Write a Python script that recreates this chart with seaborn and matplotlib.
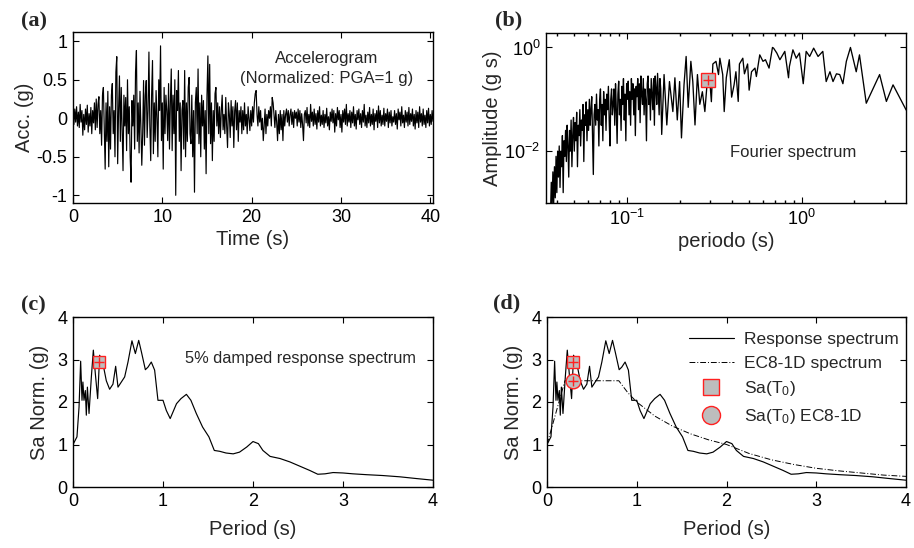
import numpy as np
import pandas as pd
import matplotlib
matplotlib.use("Agg")
import matplotlib.pyplot as plt
import seaborn as sns
from matplotlib.lines import Line2D
from matplotlib.ticker import LogLocator, NullLocator, FixedLocator

# ---------------- data ----------------
acc_dt = 0.1
acc_values = [
    0.05, -0.08, 0.12, -0.05, 0.15, -0.1, 0.08, -0.12, 0.18, -0.05,
    0.1, -0.22, 0.05, -0.15, 0.12, -0.08, 0.17, -0.18, 0.06, -0.1,
    0.14, -0.2, 0.1, -0.06, 0.2, -0.15, 0.25, -0.12, 0.18, 0.28,
    -0.2, 0.1, -0.35, 0.3, 0.4, -0.1, -0.66, 0.2, -0.3, 0.35,
    -0.63, 0.15, -0.4, 0.3, 0.45, -0.2, 0.1, -0.5, 0.6, 0.8,
    -0.59, 0.1, 0.55, -0.3, 0.4, -0.15, -0.68, 0.3, -0.1, 0.27,
    -0.42, 0.5, -0.2, 0.15, -0.5, -0.83, 0.23, -0.1, 0.3, -0.4,
    0.6, 0.88, -0.3, 0.2, -0.45, 0.35, -0.1, -0.61, -0.2, 0.49,
    -0.35, 0.3, 0.49, -0.25, 0.1, 0.86, -0.1, -0.55, 0.3, 0.75,
    -0.46, 0.2, -0.3, 0.36, 0.0, -0.5, 0.5, 0.1, 0.94, -0.29,
    0.2, -0.66, 0.4, -0.2, 0.3, 0.1, -0.29, 0.45, -0.4, 0.2,
    0.64, -0.42, 0.3, -0.2, 0.5, -1.0, 0.36, 0.1, 0.62, -0.3,
    0.2, -0.68, 0.1, 0.23, -0.4, 0.62, -0.5, 0.2, -0.3, 0.4,
    0.53, -0.2, -0.33, 0.3, -0.5, 0.1, -0.96, 0.2, 0.4, -0.2,
    0.64, -0.33, 0.2, -0.5, 0.3, -0.1, 0.23, -0.4, 0.1, -0.72,
    0.3, 0.81, -0.2, 0.7, -0.33, 0.2, -0.55, 0.1, -0.3, 0.32,
    0.4, -0.1, 0.2, -0.2, 0.15, -0.25, 0.1, 0.3, -0.15, 0.05,
    -0.2, 0.27, -0.1, -0.38, 0.2, 0.05, -0.25, 0.23, -0.1, 0.15,
    -0.38, 0.1, 0.23, -0.15, 0.2, -0.3, 0.1, -0.05, 0.15, -0.2,
    0.1, -0.15, 0.2, -0.1, 0.05, -0.2, 0.15, 0.0, -0.16, 0.1,
    -0.1, 0.15, -0.05, 0.2, 0.32, 0.36, 0.05, -0.1, 0.15, -0.05,
    0.1, -0.15, 0.0, -0.29, -0.1, 0.12, -0.2, 0.05, -0.1, 0.1,
    0.0, 0.15, -0.1, 0.27, 0.2, 0.05, -0.12, 0.1, -0.05, -0.29,
    0.05, -0.2, 0.1, -0.15, 0.05, -0.29, 0.1, -0.1, 0.05, 0.12,
    -0.05, 0.1, -0.1, 0.05, 0.12, -0.08, 0.08, -0.12, 0.1, 0.0,
    0.08, -0.1, 0.12, -0.05, 0.1, -0.12, 0.06, -0.08, -0.29, 0.05,
    0.1, -0.06, 0.14, -0.1, 0.05, -0.12, 0.18, -0.04, 0.08, -0.1,
    0.12, -0.08, 0.06, -0.14, 0.1, -0.05, 0.15, -0.1, 0.04, -0.08,
    0.1, -0.12, 0.05, -0.06, 0.13, -0.1, 0.02, -0.15, 0.08, -0.04,
    0.12, -0.06, 0.1, -0.18, 0.06, -0.1, 0.14, -0.02, 0.1, -0.12,
    0.05, -0.18, 0.1, -0.05, 0.12, -0.08, 0.18, -0.1, 0.06, -0.05,
    0.1, -0.12, 0.08, -0.06, 0.15, -0.1, 0.05, -0.14, 0.1, -0.02,
    0.12, -0.08, 0.06, -0.12, 0.1, -0.05, 0.18, -0.1, 0.04, -0.12,
    0.08, -0.06, 0.14, -0.1, 0.05, -0.08, 0.12, -0.15, 0.06, -0.04,
    0.1, -0.12, 0.16, -0.06, 0.1, -0.1, 0.04, -0.08, 0.13, -0.1,
    0.06, -0.04, 0.12, -0.12, 0.08, -0.06, 0.1, -0.1, 0.02, -0.05,
    0.1, -0.08, 0.06, -0.14, 0.12, -0.02, 0.08, -0.1, 0.15, -0.06,
    0.04, -0.12, 0.1, -0.05, 0.08, -0.1, 0.14, -0.08, 0.06, -0.04,
    0.12, -0.1, 0.05, -0.14, 0.1, -0.06, 0.08, -0.12, 0.15, -0.05,
    0.06, -0.1, 0.12, -0.08, 0.04, -0.12, 0.1, -0.06, 0.13, -0.1,
    0.05, -0.08, 0.1, -0.04,
]

# Fourier spectrum, short-period (dense) part: log10 amplitudes
fourier_dense_period_range = (0.0365, 0.156)
fourier_dense_log_amp = [
    -3.2, -2.6, -3.1, -2.4, -3.0, -2.3, -2.9, -2.1, -2.8, -2.0,
    -2.5, -1.9, -2.7, -2.0, -2.3, -1.7, -2.8, -1.8, -2.1, -1.6,
    -2.2, -1.5, -1.9, -2.5, -1.6, -2.0, -1.4, -2.3, -1.7, -1.35,
    -2.0, -1.45, -1.8, -1.25, -2.3, -1.5, -1.7, -1.2, -1.9, -1.4,
    -1.6, -1.1, -2.2, -1.3, -1.5, -1.05, -1.8, -1.2, -1.6, -1.0,
    -1.5, -1.2, -0.95, -1.7, -2.45, -1.3, -1.1, -1.5, -0.9, -1.4,
    -1.2, -1.9, -1.0, -0.8, -1.5, -1.1, -1.8, -0.85, -1.3, -1.0,
    -1.6, -0.9, -1.2, -0.75, -1.4, -1.9, -1.0, -0.8, -1.3, -1.1,
    -0.8, -1.5, -0.7, -1.2, -1.85, -0.9, -0.65, -1.3, -1.0, -1.6,
    -0.75, -1.1, -0.6, -1.4, -0.9, -1.8, -0.7, -1.0, -0.65, -1.3,
    -0.85, -1.5, -0.6, -1.0, -0.7, -1.3, -0.8, -1.7, -0.75, -0.95,
    -0.6, -1.2, -0.7, -1.45, -0.55, -0.9, -1.1, -0.6, -1.3, -0.8,
    -1.0, -1.8, -0.7, -0.55, -1.1, -0.8, -1.4, -0.6, -0.9, -1.2,
    -0.6, -1.5, -0.55, -0.8, -1.1, -0.5, -0.9, -1.3, -0.6, -0.8,
]
# Fourier spectrum, longer-period part
fourier_period = [
    0.158, 0.163, 0.169, 0.175, 0.183, 0.188, 0.194, 0.2, 0.205, 0.212,
    0.218, 0.224, 0.232, 0.238, 0.245, 0.253, 0.261, 0.27, 0.279, 0.29,
    0.298, 0.304, 0.31, 0.323, 0.334, 0.34, 0.353, 0.36, 0.37, 0.385,
    0.397, 0.41, 0.42, 0.433, 0.44, 0.46, 0.47, 0.49, 0.5, 0.516,
    0.54, 0.55, 0.575, 0.6, 0.62, 0.65, 0.68, 0.69, 0.72, 0.75,
    0.8, 0.84, 0.85, 0.89, 0.93, 0.97, 1.02, 1.06, 1.11, 1.17,
    1.24, 1.32, 1.38, 1.45, 1.51, 1.58, 1.65, 1.72, 1.8, 1.9,
    2.05, 2.14, 2.34, 2.79, 3.05, 3.33, 3.96,
]
fourier_amp = [
    0.021, 0.3, 0.032, 0.22, 0.058, 0.26, 0.04, 0.22, 0.018, 0.19,
    0.67, 0.07, 0.54, 0.22, 0.032, 0.3, 0.08, 0.14, 0.058, 0.3,
    0.22, 0.09, 0.48, 0.54, 0.3, 0.62, 0.3, 0.058, 0.26, 0.58,
    0.11, 0.19, 0.34, 0.091, 0.48, 0.62, 0.31, 0.48, 0.15, 0.34,
    0.4, 0.275, 0.72, 0.54, 0.58, 0.4, 1.0, 0.97, 0.78, 0.58,
    0.84, 0.26, 0.43, 0.9, 0.62, 0.78, 0.2, 0.84, 0.67, 0.97,
    0.67, 0.84, 0.22, 0.34, 0.22, 0.31, 0.3, 0.2, 0.54, 1.0,
    0.34, 0.72, 0.084, 0.30, 0.091, 0.19, 0.062,
]

# 5% damped response spectrum
rs_period = [
    0.0, 0.044, 0.067, 0.085, 0.1, 0.11, 0.122, 0.137, 0.148, 0.16,
    0.178, 0.204, 0.226, 0.248, 0.274, 0.296, 0.333, 0.37, 0.407, 0.444,
    0.474, 0.5, 0.537, 0.574, 0.611, 0.655, 0.693, 0.73, 0.76, 0.804,
    0.833, 0.87, 0.907, 0.944, 1.0, 1.037, 1.08, 1.15, 1.2, 1.26,
    1.31, 1.37, 1.44, 1.51, 1.57, 1.63, 1.7, 1.78, 1.85, 1.93,
    2.0, 2.06, 2.11, 2.19, 2.3, 2.41, 2.52, 2.63, 2.72, 2.8,
    2.89, 3.0, 3.11, 3.26, 3.44, 3.63, 3.81, 4.0,
]
rs_sa = [
    1.0, 1.18, 1.88, 2.96, 2.04, 2.47, 2.04, 2.27, 1.69, 2.35,
    1.73, 2.59, 3.22, 2.67, 2.08, 3.1, 2.9, 2.5, 2.3, 2.42,
    2.84, 2.35, 2.47, 2.59, 2.94, 3.44, 3.14, 3.45, 3.18, 2.76,
    2.82, 2.94, 2.75, 2.04, 2.04, 1.8, 1.61, 1.96, 2.08, 2.18,
    2.04, 1.73, 1.41, 1.18, 0.86, 0.84, 0.8, 0.78, 0.82, 0.94,
    1.07, 1.02, 0.86, 0.72, 0.67, 0.59, 0.49, 0.39, 0.3, 0.31,
    0.34, 0.33, 0.31, 0.29, 0.27, 0.24, 0.2, 0.16,
]

# EC8-1D spectrum
ec8_period = [0.0, 0.2, 0.8, 0.9, 1.0, 1.2, 1.4, 1.6, 1.8, 2.0,
              2.25, 2.5, 2.75, 3.0, 3.25, 3.5, 3.75, 4.0]
ec8_sa = [1.0, 2.5, 2.5, 2.22, 2.0, 1.67, 1.43, 1.25, 1.11, 1.0,
          0.79, 0.64, 0.53, 0.44, 0.38, 0.33, 0.28, 0.25]

T0 = 0.29
sa_T0 = 2.95
sa_T0_ec8 = 2.5
fourier_T0_amp = 0.235

# ---------------- style ----------------
sns.set_theme(style="ticks")
plt.rcParams['font.family'] = ['Liberation Sans', 'DejaVu Sans']
plt.rcParams.update({
    'axes.unicode_minus': False,
    'mathtext.fontset': 'custom',
    'mathtext.rm': 'Liberation Sans',
    'mathtext.it': 'Liberation Sans:italic',
    'mathtext.bf': 'Liberation Sans:bold',
    'xtick.direction': 'in', 'ytick.direction': 'in',
    'xtick.top': True, 'ytick.right': True,
    'xtick.major.size': 4, 'ytick.major.size': 4,
    'xtick.minor.size': 2.2, 'ytick.minor.size': 2.2,
    'xtick.major.width': 0.8, 'ytick.major.width': 0.8,
    'xtick.major.pad': 4.5, 'ytick.major.pad': 4,
    'axes.linewidth': 1.0,
    'axes.edgecolor': 'black',
    'xtick.color': 'black', 'ytick.color': 'black',
    'xtick.labelsize': 13, 'ytick.labelsize': 13,
    'axes.labelsize': 14.5,
})

W, H = 914, 548
fig = plt.figure(figsize=(W / 100, H / 100), dpi=100)


def add_ax(left, top, right, bottom):
    return fig.add_axes([left / W, 1 - bottom / H, (right - left) / W, (bottom - top) / H])


ax_a = add_ax(73, 32, 433, 203)
ax_b = add_ax(546, 33, 906, 203)
ax_c = add_ax(73, 317, 433, 487)
ax_d = add_ax(547, 317, 906, 487)

sq_fc = '#bdbdbd'
red = '#ff2020'
ann_fs = 12

# (a) accelerogram
acc_df = pd.DataFrame({'t': np.arange(len(acc_values)) * acc_dt, 'acc': acc_values})
sns.lineplot(data=acc_df, x='t', y='acc', ax=ax_a, color='black', lw=0.85,
             estimator=None, sort=False)
ax_a.set_xlim(0, 40.3)
ax_a.set_ylim(-1.1, 1.12)
ax_a.set_xticks([0, 10, 20, 30, 40])
ax_a.set_yticks([-1, -0.5, 0, 0.5, 1])
ax_a.set_yticklabels(['-1', '-0.5', '0', '0.5', '1'])
ax_a.set_xlabel('Time (s)', labelpad=3)
ax_a.set_ylabel('Acc. (g)', labelpad=2)
ax_a.text(0.705, 0.845, 'Accelerogram', transform=ax_a.transAxes, ha='center',
          va='center', fontsize=ann_fs)
ax_a.text(0.705, 0.73, '(Normalized: PGA=1 g)', transform=ax_a.transAxes,
          ha='center', va='center', fontsize=ann_fs)

# (b) Fourier spectrum
dense_T = np.geomspace(fourier_dense_period_range[0], fourier_dense_period_range[1],
                       len(fourier_dense_log_amp))
four_df = pd.DataFrame({
    'T': np.concatenate([dense_T, fourier_period]),
    'A': np.concatenate([10.0 ** np.array(fourier_dense_log_amp), fourier_amp]),
})
ax_b.set_xscale('log')
ax_b.set_yscale('log')
sns.lineplot(data=four_df, x='T', y='A', ax=ax_b, color='black', lw=0.95,
             estimator=None, sort=False)
ax_b.set_xlim(0.0344, 3.95)
ax_b.set_ylim(1e-3, 1.9)
ax_b.xaxis.set_major_locator(FixedLocator([0.1, 1.0]))
ax_b.xaxis.set_minor_locator(LogLocator(base=10, subs=np.arange(2, 10)))
ax_b.yaxis.set_major_locator(FixedLocator([1e-2, 1.0]))
ax_b.yaxis.set_minor_locator(NullLocator())
ax_b.plot([T0], [fourier_T0_amp], ls='none', marker='s', ms=9.5, mfc=sq_fc,
          mec=red, mew=1.0, zorder=5)
ax_b.plot([T0], [fourier_T0_amp], ls='none', marker='+', ms=7, mec=red, mew=1.0,
          zorder=6)
ax_b.set_xlabel('periodo (s)', labelpad=2)
ax_b.set_ylabel('Amplitude (g s)', labelpad=2)
ax_b.text(0.686, 0.30, 'Fourier spectrum', transform=ax_b.transAxes, ha='center',
          va='center', fontsize=ann_fs)

# (c) response spectrum
rs_df = pd.DataFrame({'T': rs_period, 'Sa': rs_sa})
sns.lineplot(data=rs_df, x='T', y='Sa', ax=ax_c, color='black', lw=0.85,
             estimator=None, sort=False)
ax_c.plot([T0], [sa_T0], ls='none', marker='s', ms=9, mfc=sq_fc, mec=red, mew=1.0,
          zorder=5)
ax_c.plot([T0], [sa_T0], ls='none', marker='+', ms=6.5, mec=red, mew=1.0, zorder=6)
ax_c.set_xlim(0, 4)
ax_c.set_ylim(0, 4)
ax_c.set_xticks([0, 1, 2, 3, 4])
ax_c.set_yticks([0, 1, 2, 3, 4])
ax_c.set_xlabel('Period (s)', labelpad=7)
ax_c.set_ylabel('Sa Norm. (g)', labelpad=6)
ax_c.text(0.633, 0.755, '5% damped response spectrum', transform=ax_c.transAxes,
          ha='center', va='center', fontsize=11.8)

# (d) response spectrum vs EC8
ec8_df = pd.DataFrame({'T': ec8_period, 'Sa': ec8_sa})
sns.lineplot(data=rs_df, x='T', y='Sa', ax=ax_d, color='black', lw=0.85,
             estimator=None, sort=False)
sns.lineplot(data=ec8_df, x='T', y='Sa', ax=ax_d, color='black', lw=0.7,
             estimator=None, sort=False, linestyle=(0, (6, 2, 1, 2)))
ax_d.plot([T0], [sa_T0], ls='none', marker='s', ms=9, mfc=sq_fc, mec=red, mew=1.0,
          zorder=5)
ax_d.plot([T0], [sa_T0], ls='none', marker='+', ms=6.5, mec=red, mew=1.0, zorder=6)
ax_d.plot([T0], [sa_T0_ec8], ls='none', marker='o', ms=10.5, mfc=sq_fc, mec=red,
          mew=1.0, zorder=5)
ax_d.plot([T0], [sa_T0_ec8], ls='none', marker='+', ms=7, mec=red, mew=1.0, zorder=6)
ax_d.set_xlim(0, 4)
ax_d.set_ylim(0, 4)
ax_d.set_xticks([0, 1, 2, 3, 4])
ax_d.set_yticks([0, 1, 2, 3, 4])
ax_d.set_xlabel('Period (s)', labelpad=7)
ax_d.set_ylabel('Sa Norm. (g)', labelpad=6)
handles = [
    Line2D([], [], color='black', lw=0.85),
    Line2D([], [], color='black', lw=0.7, ls=(0, (6, 2, 1, 2))),
    Line2D([], [], ls='none', marker='s', ms=11, mfc=sq_fc, mec=red, mew=1.0),
    Line2D([], [], ls='none', marker='o', ms=13, mfc=sq_fc, mec=red, mew=1.0),
]
labels = ['Response spectrum', 'EC8-1D spectrum', 'Sa(T$_0$)', 'Sa(T$_0$) EC8-1D']
ax_d.legend(handles, labels, loc='upper right', bbox_to_anchor=(1.0, 0.955),
            frameon=False, fontsize=12.5,
            handlelength=2.6, labelspacing=0.5, borderaxespad=0.1,
            handletextpad=0.6, borderpad=0.3)

# panel letters
for x, y, s in [(34, 21, '(a)'), (509, 20, '(b)'), (33, 305, '(c)'), (507, 303, '(d)')]:
    fig.text(x / W, 1 - y / H, s, ha='center', va='center', fontsize=16,
             fontweight='bold', family=['Liberation Serif', 'DejaVu Serif'])

fig.savefig('out.png', dpi=100)
